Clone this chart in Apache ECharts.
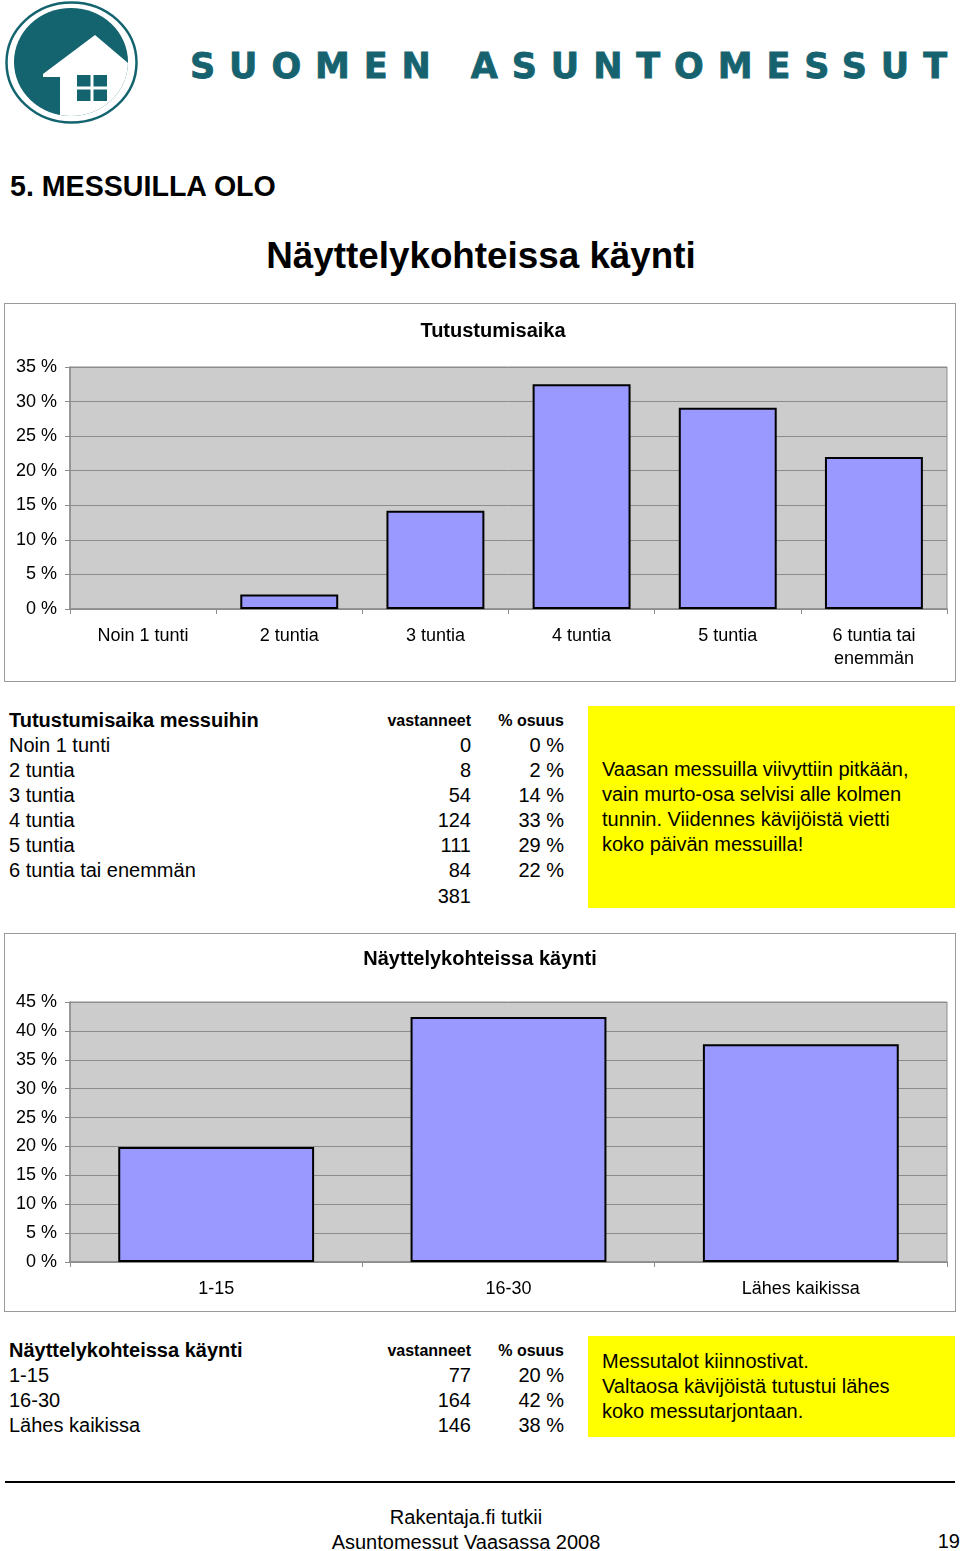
<!DOCTYPE html>
<html>
<head>
<meta charset="utf-8">
<script src="https://cdn.jsdelivr.net/npm/echarts@6/dist/echarts.min.js"></script>
<style>
  html, body { margin:0; padding:0; background:#fff; }
  body { width:960px; height:1551px; position:relative; overflow:hidden; font-family:"Liberation Sans", Arial, sans-serif; color:#000; }
  .abs { position:absolute; white-space:pre; }
  .box { position:absolute; box-sizing:border-box; border:1px solid #9a9a9a; background:#fff; }
  .yellow { position:absolute; background:#ffff00; }
  .row { position:absolute; height:25px; line-height:25px; font-size:20px; white-space:pre; }
</style>
</head>
<body>
<script>
// ---------- DATA ----------
const cats1 = ['Noin 1 tunti', '2 tuntia', '3 tuntia', '4 tuntia', '5 tuntia', '6 tuntia tai\nenemmän'];
const pct1 = [0, 2.1, 14.2, 32.5, 29.1, 22.0];
const rowLabels1 = ['Noin 1 tunti', '2 tuntia', '3 tuntia', '4 tuntia', '5 tuntia', '6 tuntia tai enemmän'];
const counts1 = [0, 8, 54, 124, 111, 84];
const pctText1 = ['0 %', '2 %', '14 %', '33 %', '29 %', '22 %'];
const total1 = '381';
const yMax1 = 35;

const cats2 = ['1-15', '16-30', 'Lähes kaikissa'];
const pct2 = [19.9, 42.4, 37.7];
const rowLabels2 = ['1-15', '16-30', 'Lähes kaikissa'];
const counts2 = [77, 164, 146];
const pctText2 = ['20 %', '42 %', '38 %'];
const yMax2 = 45;
const yInterval = 5;

const note1 = ['Vaasan messuilla viivyttiin pitkään,', 'vain murto-osa selvisi alle kolmen', 'tunnin. Viidennes kävijöistä vietti', 'koko päivän messuilla!'];
const note2 = ['Messutalot kiinnostivat.', 'Valtaosa kävijöistä tutustui lähes', 'koko messutarjontaan.'];
</script>

<!-- Logo -->
<svg width="960" height="130" style="position:absolute;left:0;top:0">
  <defs><clipPath id="inner"><ellipse cx="71" cy="62" rx="57" ry="54"/></clipPath></defs>
  <ellipse cx="71.5" cy="62.5" rx="65" ry="60" fill="none" stroke="#13646f" stroke-width="2.5"/>
  <ellipse cx="71" cy="62" rx="57" ry="54" fill="#13646f"/>
  <g clip-path="url(#inner)">
    <polygon points="43,74 95,35 160,90 160,140 60,140 60,77 43,77" fill="#fff"/>
  </g>
  <rect x="77" y="75" width="13.5" height="11.5" fill="#13646f"/>
  <rect x="93.5" y="75" width="13.5" height="11.5" fill="#13646f"/>
  <rect x="77" y="89.5" width="13.5" height="11.5" fill="#13646f"/>
  <rect x="93.5" y="89.5" width="13.5" height="11.5" fill="#13646f"/>
  <text x="190" y="77.5" textLength="757" lengthAdjust="spacing" font-family="DejaVu Sans" font-weight="bold" font-size="35" fill="#16636f" stroke="#16636f" stroke-width="0.8">SUOMEN ASUNTOMESSUT</text>
</svg>

<div class="abs" style="left:10px;top:169px;font-size:28.6px;line-height:34px;font-weight:bold;">5. MESSUILLA OLO</div>
<div class="abs" style="left:0;width:962px;text-align:center;top:234px;font-size:36.8px;line-height:44px;font-weight:bold;">Näyttelykohteissa käynti</div>

<div id="c1" class="box" style="left:4px;top:303px;width:952px;height:379px;"></div>
<div id="t1"></div>
<div class="yellow" style="left:588px;top:706px;width:367px;height:202px;"></div>
<div id="n1"></div>

<div id="c2" class="box" style="left:4px;top:933px;width:952px;height:379px;"></div>
<div id="t2"></div>
<div class="yellow" style="left:588px;top:1336px;width:367px;height:101px;"></div>
<div id="n2"></div>

<div style="position:absolute;left:5px;top:1481px;width:950px;height:2px;background:#000;"></div>
<div class="abs" style="left:0;width:932px;text-align:center;top:1505px;font-size:20px;line-height:25px;">Rakentaja.fi tutkii</div>
<div class="abs" style="left:0;width:932px;text-align:center;top:1530px;font-size:20px;line-height:25px;">Asuntomessut Vaasassa 2008</div>
<div class="abs" style="right:0;top:1529px;font-size:20px;line-height:25px;">19</div>

<script>
function addDiv(parent, text, css) {
  const d = document.createElement('div');
  d.className = 'row';
  d.textContent = text;
  Object.assign(d.style, css);
  parent.appendChild(d);
  return d;
}
function buildTable(hostId, title, labels, counts, pcts, total, topY) {
  const host = document.getElementById(hostId);
  addDiv(host, title, { left: '9px', top: topY + 'px', fontWeight: 'bold' });
  addDiv(host, 'vastanneet', { left: '300px', width: '171px', textAlign: 'right', top: topY + 'px', fontWeight: 'bold', fontSize: '16px' });
  addDiv(host, '% osuus', { left: '470px', width: '94px', textAlign: 'right', top: topY + 'px', fontWeight: 'bold', fontSize: '16px' });
  labels.forEach((lab, i) => {
    const y = topY + 25 * (i + 1);
    addDiv(host, lab, { left: '9px', top: y + 'px' });
    addDiv(host, String(counts[i]), { left: '371px', width: '100px', textAlign: 'right', top: y + 'px' });
    addDiv(host, pcts[i], { left: '464px', width: '100px', textAlign: 'right', top: y + 'px' });
  });
  if (total) {
    const y = topY + 25 * (labels.length + 1) + 1;
    addDiv(host, total, { left: '371px', width: '100px', textAlign: 'right', top: y + 'px' });
  }
}
function buildNote(hostId, lines, topY) {
  const host = document.getElementById(hostId);
  lines.forEach((l, i) => addDiv(host, l, { left: '602px', top: (topY + 25 * i) + 'px' }));
}
buildTable('t1', 'Tutustumisaika messuihin', rowLabels1, counts1, pctText1, total1, 707.5);
buildNote('n1', note1, 756.5);
buildTable('t2', 'Näyttelykohteissa käynti', rowLabels2, counts2, pctText2, null, 1337.5);
buildNote('n2', note2, 1348.5);

const FONT = '"Liberation Sans", Arial, sans-serif';
function makeChart(id, title, titleX, titleTop, cats, vals, yMax, grid) {
  const chart = echarts.init(document.getElementById(id), null, { renderer: 'canvas' });
  chart.setOption({
    animation: false,
    backgroundColor: '#fff',
    title: {
      text: title, left: titleX, top: titleTop, textAlign: 'center',
      textStyle: { fontFamily: FONT, fontSize: 20, fontWeight: 'bold', color: '#000', lineHeight: 24 }
    },
    grid: Object.assign({ show: true, backgroundColor: '#cccccc', borderColor: '#8c8c8c', borderWidth: 1 }, grid),
    xAxis: {
      type: 'category', data: cats,
      axisLine: { lineStyle: { color: '#8c8c8c', width: 1.5 } },
      axisTick: { show: true, length: 5, lineStyle: { color: '#8c8c8c' } },
      axisLabel: { fontFamily: FONT, fontSize: 18, color: '#000', margin: 16, lineHeight: 23, interval: 0 }
    },
    yAxis: {
      type: 'value', min: 0, max: yMax, interval: yInterval,
      axisLine: { show: true, lineStyle: { color: '#8c8c8c', width: 1.5 } },
      axisTick: { show: true, length: 5, lineStyle: { color: '#8c8c8c' } },
      splitLine: { show: true, lineStyle: { color: '#8c8c8c', width: 1 } },
      axisLabel: { fontFamily: FONT, fontSize: 18, color: '#000', margin: 13, formatter: '{value} %' }
    },
    series: [{
      type: 'bar',
      data: vals.map(v => v === 0 ? { value: v, itemStyle: { borderWidth: 0 } } : v),
      barCategoryGap: '33%',
      itemStyle: { color: '#9999ff', borderColor: '#000', borderWidth: 2 }
    }]
  });
}
makeChart('c1', 'Tutustumisaika', 483, 10, cats1, pct1, yMax1, { left: 65, right: 8, top: 63, bottom: 72 });
makeChart('c2', 'Näyttelykohteissa käynti', 470, 8, cats2, pct2, yMax2, { left: 65, right: 8, top: 68, bottom: 49 });
</script>
</body>
</html>
